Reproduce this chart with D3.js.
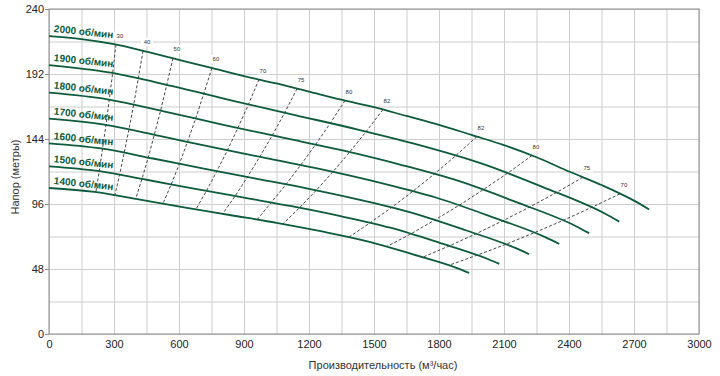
<!DOCTYPE html>
<html>
<head>
<meta charset="utf-8">
<script src="https://cdn.jsdelivr.net/npm/d3@7"></script>
<style>
  body { margin: 0; background: #fff; }
  svg text { font-family: "Liberation Sans", Arial, sans-serif; }
</style>
</head>
<body>
<svg id="chart" width="720" height="376"></svg>
<script>
// pump curves, flow (m3/h) / head (m)
var curve2000 = [[0,220],[150,217.8],[300,214],[450,208.5],[600,202.5],[750,196.5],[900,190.5],[1050,185],[1200,179],[1350,173],[1500,167.5],[1650,161],[1800,154.5],[1950,147],[2100,139.5],[2250,130.5],[2400,120],[2550,110],[2700,98.5],[2770,92]];
var curve1900 = [[0,198.6],[285,193],[570,183],[855,172],[1140,161.5],[1425,151],[1710,139.5],[1995,126],[2280,108.5],[2565,89],[2632,83]];
var curve1800 = [[0,178.2],[270,173.3],[540,164],[810,154.3],[1080,145],[1350,135.7],[1620,125.1],[1890,113],[2160,97.2],[2430,79.8],[2493,74.5]];
var curve1700 = [[0,159],[255,154.6],[510,146.3],[765,137.6],[1020,129.3],[1275,121],[1530,111.6],[1785,100.8],[2040,86.7],[2295,71.2],[2355,66.5]];
var curve1600 = [[0,140.8],[240,137],[480,129.6],[720,121.9],[960,114.6],[1200,107.2],[1440,98.9],[1680,89.3],[1920,76.8],[2160,63],[2216,58.9]];
var curve1500 = [[0,123.8],[225,120.4],[450,113.9],[675,107.2],[900,100.7],[1125,94.2],[1350,86.9],[1575,78.5],[1800,67.5],[2025,55.4],[2078,51.8]];
var curve1400 = [[0,107.8],[210,104.9],[420,99.2],[630,93.3],[840,87.7],[1050,82.1],[1260,75.7],[1470,68.4],[1680,58.8],[1890,48.3],[1939,45.1]];

var speedLabels = ["2000 об/мин","1900 об/мин","1800 об/мин","1700 об/мин","1600 об/мин","1500 об/мин","1400 об/мин"];
var curves = [curve2000, curve1900, curve1800, curve1700, curve1600, curve1500, curve1400];

// efficiency lines (%), points from 2000 down to 1400 rpm
var effLabels = ["30","40","50","60","70","75","80","82","82","80","75","70"];
var effLines = [
  [[309,213.7],[294,192.9],[278,173.1],[263,154.4],[247,136.8],[232,120.2],[216,104.7]],
  [[434,209.1],[412,188.7],[391,169.4],[369,151.1],[347,133.8],[326,117.6],[304,102.5]],
  [[572,203.6],[543,183.7],[515,164.9],[486,147.1],[458,130.3],[429,114.5],[400,99.8]],
  [[752,196.4],[714,177.3],[677,159.1],[639,141.9],[602,125.7],[564,110.5],[526,96.2]],
  [[969,188],[921,169.7],[872,152.3],[824,135.8],[775,120.3],[727,105.8],[678,92.1]],
  [[1145,181.2],[1088,163.5],[1031,146.8],[973,130.9],[916,116],[859,101.9],[802,88.8]],
  [[1366,172.4],[1298,155.6],[1229,139.6],[1161,124.6],[1093,110.3],[1025,97],[960,84.3]],
  [[1541,165.7],[1464,149.5],[1387,134.2],[1310,119.7],[1233,106],[1156,93.2],[1079,81.2]],
  [[1975,145.8],[1876,131.5],[1778,118.1],[1679,105.3],[1580,93.3],[1481,82],[1383,71.4]],
  [[2229,131.8],[2118,118.9],[2006,106.8],[1895,95.2],[1783,84.4],[1672,74.1],[1560,64.6]],
  [[2464,115.7],[2341,104.4],[2218,93.7],[2094,83.6],[1971,74],[1848,65.1],[1725,56.7]],
  [[2635,103.5],[2503,93.4],[2372,83.8],[2240,74.8],[2108,66.2],[1976,58.2],[1845,50.7]]
];

var xTicks = [0,300,600,900,1200,1500,1800,2100,2400,2700,3000];
var yTicks = [0,48,96,144,192,240];

(function() {
var svg = d3.select("#chart");
var pl = 49, pr = 699, pt = 9, pb = 334;

var x = d3.scaleLinear().domain([0, 3000]).range([pl, pr]);
var y = d3.scaleLinear().domain([0, 240]).range([pb, pt]);

// grid
svg.append("g")
    .attr("transform", "translate(0," + pb + ")")
    .call(d3.axisBottom(x).tickValues(d3.range(0, 3001, 150)).tickSize(-(pb - pt)).tickFormat(""))
    .call(function(g) { g.select(".domain").remove(); })
    .selectAll("line").attr("stroke", "#cdcdcd");

svg.append("g")
    .attr("transform", "translate(" + pl + ",0)")
    .call(d3.axisLeft(y).tickValues(d3.range(0, 241, 24)).tickSize(-(pr - pl)).tickFormat(""))
    .call(function(g) { g.select(".domain").remove(); })
    .selectAll("line").attr("stroke", "#cdcdcd");

svg.append("rect")
    .attr("x", pl).attr("y", pt)
    .attr("width", pr - pl).attr("height", pb - pt)
    .attr("fill", "none").attr("stroke", "#8c8c8c");

// tick labels
var xa = svg.append("g")
    .attr("transform", "translate(0," + pb + ")")
    .call(d3.axisBottom(x).tickValues(xTicks).tickSize(0).tickPadding(6).tickFormat(d3.format("d")));
xa.select(".domain").remove();
xa.selectAll("text").attr("font-size", "11px").attr("fill", "#222")
    .attr("font-family", "Liberation Sans, Arial, sans-serif");

var ya = svg.append("g")
    .attr("transform", "translate(" + pl + ",0)")
    .call(d3.axisLeft(y).tickValues(yTicks).tickSize(4).tickPadding(1).tickFormat(d3.format("d")));
ya.select(".domain").remove();
ya.selectAll("line").attr("stroke", "#8c8c8c");
ya.selectAll("text").attr("font-size", "11px").attr("fill", "#222")
    .attr("font-family", "Liberation Sans, Arial, sans-serif");

svg.append("text")
    .attr("x", 383).attr("y", 369)
    .attr("text-anchor", "middle")
    .attr("font-size", "11px").attr("fill", "#333")
    .text("Производительность (м³/час)");

svg.append("text")
    .attr("transform", "translate(19,177) rotate(-90)")
    .attr("text-anchor", "middle")
    .attr("font-size", "11px").attr("fill", "#333")
    .text("Напор (метры)");

// efficiency lines
var line = d3.line().x(function(d) { return x(d[0]); }).y(function(d) { return y(d[1]); });

svg.append("g").selectAll("path")
    .data(effLines)
    .enter().append("path")
    .attr("d", line)
    .attr("fill", "none")
    .attr("stroke", "#333")
    .attr("stroke-width", 0.9)
    .attr("stroke-dasharray", "3,2");

// pump curves
var curveLine = d3.line()
    .x(function(d) { return x(d[0]); })
    .y(function(d) { return y(d[1]); })
    .curve(d3.curveMonotoneX);

svg.append("g").selectAll("path")
    .data(curves)
    .enter().append("path")
    .attr("d", curveLine)
    .attr("fill", "none")
    .attr("stroke", "#0d5a3c")
    .attr("stroke-width", 1.8);

// efficiency labels
var el = svg.append("g").selectAll("g")
    .data(effLines)
    .enter().append("g")
    .attr("transform", function(d) {
        return "translate(" + (x(d[0][0]) + 4) + "," + (y(d[0][1]) - 9) + ")";
    });
el.append("rect")
    .attr("x", -6).attr("y", -4).attr("width", 12).attr("height", 8)
    .attr("fill", "#fff");
el.append("text")
    .attr("text-anchor", "middle")
    .attr("dy", "0.35em")
    .attr("font-size", "6px")
    .attr("fill", "#333")
    .text(function(d, i) { return effLabels[i]; });

// speed labels
svg.append("g").selectAll("text")
    .data(curves)
    .enter().append("text")
    .attr("transform", function(d) {
        return "translate(" + x(160) + "," + (y(d[0][1]) - 4.5) + ") rotate(6)";
    })
    .attr("text-anchor", "middle")
    .attr("dy", "0.35em")
    .attr("font-size", "10px")
    .attr("font-weight", "bold")
    .attr("fill", "#0b5a36")
    .text(function(d, i) { return speedLabels[i]; });
})();
</script>
</body>
</html>
